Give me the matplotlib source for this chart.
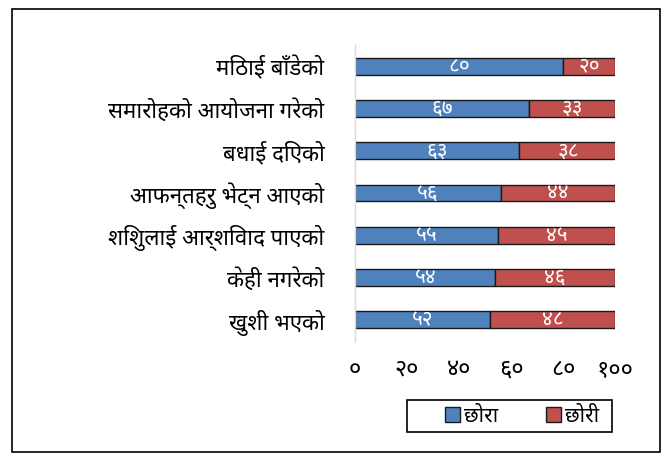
import matplotlib
matplotlib.use("Agg")
import matplotlib.pyplot as plt
from matplotlib import font_manager
from matplotlib.patches import Rectangle

available = {f.name for f in font_manager.fontManager.ttflist}
prefs = ["Noto Sans Devanagari", "Mukta", "Hind", "Annapurna SIL", "Ek Mukta", "Amiko"]
dev = next((p for p in prefs if p in available), "Akshar")
FAM = [dev, "DejaVu Sans"]

categories = ["मिठाई बाँडेको", "समारोहको आयोजना गरेको", "बधाई दिएको",
              "आफन्तहरु भेट्न आएको", "शिशुलाई आर्शिवाद पाएको", "केही नगरेको", "खुशी भएको"]
chhora = [80, 67, 63, 56, 55, 54, 52]
chhori = [20, 33, 38, 44, 45, 46, 48]
xticks = [0, 20, 40, 60, 80, 100]
series_names = ["छोरा", "छोरी"]

DIG = str.maketrans("0123456789", "०१२३४५६७८९")
def dn(v):
    return str(v).translate(DIG)

blue = "#4f81bd"
red = "#c0504d"

fig = plt.figure(figsize=(6.72, 4.57), dpi=100)
fig.patches.append(Rectangle((12/672, 1-452/457), 648/672, 443/457, transform=fig.transFigure,
                             fill=False, edgecolor="black", linewidth=1.2))
ax = fig.add_axes([355/672, 1-341/457, 260/672, 296/457])

n = len(categories)
ypos = list(range(n))[::-1]
b1 = ax.barh(ypos, chhora, height=0.4, color=blue, edgecolor="#1a1a1a", linewidth=1.0, label=series_names[0])
b2 = ax.barh(ypos, chhori, left=chhora, height=0.4, color=red, edgecolor="#1a1a1a", linewidth=1.0, label=series_names[1])
for y, a, b in zip(ypos, chhora, chhori):
    ax.text(a/2, y, dn(a), ha="center", va="center", color="white", fontsize=15, family=FAM)
    ax.text(a + b/2, y, dn(b), ha="center", va="center", color="white", fontsize=15, family=FAM)

ax.set_xlim(0, 100)
ax.set_ylim(-0.5, n-0.5)
ax.set_yticks(ypos)
ax.set_yticklabels(categories, fontsize=16, family=FAM)
ax.set_xticks(xticks)
ax.set_xticklabels([dn(t) for t in xticks], fontsize=17, family=FAM)
ax.tick_params(axis="both", length=0)
ax.tick_params(axis="y", pad=22)
ax.tick_params(axis="x", pad=12)
for s in ["top", "right", "bottom"]:
    ax.spines[s].set_visible(False)
ax.spines["left"].set_color("#d9d9d9")
ax.spines["left"].set_linewidth(1.0)

leg = fig.legend(handles=[b1, b2], labels=series_names, loc="center",
                 bbox_to_anchor=(522/672, 1-416/457), ncol=2, frameon=False,
                 prop={"family": FAM, "size": 15},
                 handlelength=0.7, handleheight=0.7, handletextpad=0.2, columnspacing=2.3,
                 borderpad=0.2, borderaxespad=0)
fig.patches.append(Rectangle((407/672, 1-432/457), 205/672, 32/457, transform=fig.transFigure,
                             fill=False, edgecolor="black", linewidth=1.2))

fig.savefig("out.png", dpi=100)
